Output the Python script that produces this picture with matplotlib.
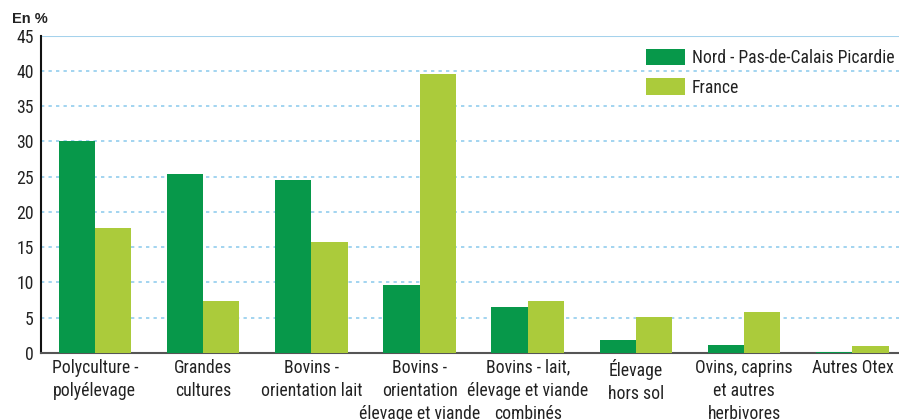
import matplotlib
matplotlib.use("Agg")
import matplotlib.pyplot as plt
import numpy as np
from matplotlib import font_manager
from matplotlib.font_manager import FontProperties

categories = ["Polyculture -\npolyélevage", "Grandes\ncultures", "Bovins -\norientation lait",
              "Bovins -\norientation\nélevage et viande", "Bovins - lait,\nélevage et viande\ncombinés",
              "Élevage\nhors sol", "Ovins, caprins\net autres\nherbivores", "Autres Otex"]
nord = [30.1, 25.4, 24.6, 9.7, 6.5, 1.9, 1.1, 0.15]
france = [17.7, 7.4, 15.8, 39.6, 7.4, 5.1, 5.8, 1.0]
series_names = ["Nord - Pas-de-Calais Picardie", "France"]
yticks = [0, 5, 10, 15, 20, 25, 30, 35, 40, 45]


def find_condensed():
    entries = font_manager.fontManager.ttflist
    def w(e):
        try:
            return int(e.weight)
        except Exception:
            return {"normal": 400, "regular": 400, "book": 400}.get(str(e.weight), 0)
    for fam, st in [("Liberation Sans Narrow", None), ("Roboto Condensed", None),
                    ("Arimo", "condensed"), ("Liberation Sans", "condensed"),
                    ("Noto Sans", "semi-condensed"), ("Noto Sans", "condensed"),
                    ("Roboto", "condensed"), ("Open Sans", "condensed"),
                    ("Open Sans", "semi-condensed"), ("DejaVu Sans", "condensed"),
                    ("DejaVu Sans", "semi-condensed")]:
        for e in entries:
            if e.name == fam and e.style == "normal" and w(e) == 400:
                if st is None or e.stretch == st:
                    return e.fname
    return None

fpath = find_condensed()
plt.rcParams['font.family'] = ['Liberation Sans', 'DejaVu Sans']

def fp(size, bold=False):
    if fpath and not bold:
        return FontProperties(fname=fpath, size=size)
    return FontProperties(family=['Liberation Sans', 'DejaVu Sans'], size=size,
                          weight='bold' if bold else 'normal')

base = 12.7 if fpath else 11

W, H = 899, 420
fig = plt.figure(figsize=(W/100, H/100), dpi=100)
ax = fig.add_axes([40.7/W, (H-353)/H, (W-40.7)/W, (353-35.7)/H])

x = np.arange(len(categories))
bw = 0.335
c1, c2 = "#07984a", "#abcb3b"
ax.bar(x - bw/2, nord, bw, color=c1, label=series_names[0], zorder=3)
ax.bar(x + bw/2, france, bw, color=c2, label=series_names[1], zorder=3)

ax.set_xlim(-0.5, 7.43)
ax.set_ylim(0, 45)
ax.set_yticks(yticks)
ax.set_yticklabels([str(v) for v in yticks], fontproperties=fp(base), color="#222222")
for v in yticks[1:-1]:
    ax.axhline(v, color="#92cdee", lw=1.2, ls=(0, (2, 2.5)), zorder=1)
ax.axhline(45, color="#a5d2ec", lw=1.5, zorder=1)

ax.set_xticks(x)
ax.set_xticklabels(categories, fontproperties=fp(base), color="#222222", linespacing=1.36)
ax.tick_params(axis='both', length=0)
ax.tick_params(axis='y', pad=5)
ax.tick_params(axis='x', pad=4)

for s in ["top", "right"]:
    ax.spines[s].set_visible(False)
ax.spines["left"].set_color("#111111")
ax.spines["left"].set_linewidth(1.5)
ax.spines["bottom"].set_color("#555555")
ax.spines["bottom"].set_linewidth(1.5)

fig.text(12/W, 1 - 19/H, "En %", fontproperties=fp(10.5, bold=True), color="#222222",
         va="center", ha="left")

leg = ax.legend(loc="upper left", bbox_to_anchor=((646-40.7)/(W-40.7), 1 - (48.5-35.7)/(353-35.7)),
                frameon=False, prop=fp(base), handlelength=2.2, handleheight=1.1,
                labelspacing=0.65, handletextpad=0.4, borderpad=0, borderaxespad=0)
for t in leg.get_texts():
    t.set_color("#222222")

fig.savefig("out.png", dpi=100)
